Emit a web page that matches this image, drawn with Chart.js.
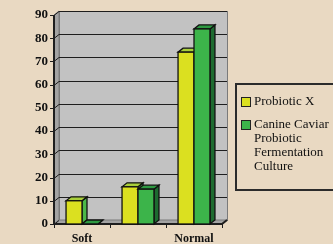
<!DOCTYPE html>
<html>
<head>
<meta charset="utf-8">
<script src="https://cdn.jsdelivr.net/npm/chart.js@4"></script>
<style>
  html, body { margin: 0; padding: 0; background: #e9d9c2; }
  #wrap { position: relative; width: 333px; height: 244px; overflow: hidden; }
  #legend {
    position: absolute; left: 235px; top: 83px; width: 104px; height: 108px;
    border: 2px solid #2b2b2b; box-sizing: border-box;
    font: 13px "Liberation Serif", serif; color: #111; padding: 9px 0 0 4px;
  }
  .item { display: flex; align-items: flex-start; margin-bottom: 9px; line-height: 14px; }
  .box { width: 8px; height: 8px; border: 1px solid #222; margin: 3px 3px 0 0; flex: none; }
  .txt { width: 84px; }
</style>
</head>
<body>
<div id="wrap">
  <canvas id="js--chart" width="333" height="244"></canvas>
  <div id="legend"></div>
</div>
<script>
const categories = ["Soft", "", "Normal"];
const probioticX = [10, 16, 74];
const canineCaviar = [0, 15, 84];
const seriesNames = ["Probiotic X", "Canine Caviar Probiotic Fermentation Culture"];

const colors = [
  { front: '#dbe020', side: '#4cb848', top: '#a9cf3a' },
  { front: '#3cb44a', side: '#1d6b30', top: '#2e9a42' }
];

const dx = 5, dy = 4;

function poly(ctx, pts, fill) {
  ctx.beginPath();
  ctx.moveTo(pts[0][0], pts[0][1]);
  for (let i = 1; i < pts.length; i++) ctx.lineTo(pts[i][0], pts[i][1]);
  ctx.closePath();
  ctx.fillStyle = fill;
  ctx.fill();
  ctx.stroke();
}

const threeD = {
  id: 'threeD',
  beforeDatasetsDraw(chart) {
    const ctx = chart.ctx;
    const a = chart.chartArea;
    const y = chart.scales.y;
    ctx.save();
    ctx.lineWidth = 1;
    ctx.strokeStyle = '#7a7a7a';
    // back wall
    ctx.fillStyle = '#c2c2c2';
    ctx.fillRect(a.left + dx, a.top - dy, a.right - a.left, a.bottom - a.top);
    ctx.strokeRect(a.left + dx + 0.5, a.top - dy + 0.5, a.right - a.left, a.bottom - a.top);
    // left wall + floor
    poly(ctx, [[a.left, a.top], [a.left + dx, a.top - dy], [a.left + dx, a.bottom - dy], [a.left, a.bottom]], '#a3a3a3');
    poly(ctx, [[a.left, a.bottom], [a.right, a.bottom], [a.right + dx, a.bottom - dy], [a.left + dx, a.bottom - dy]], '#a3a3a3');
    // gridlines on back wall + ticks
    ctx.strokeStyle = '#1e1e1e';
    y.ticks.forEach(t => {
      const py = Math.round(y.getPixelForValue(t.value)) + 0.5;
      ctx.beginPath();
      if (t.value > 0) {
        ctx.moveTo(a.left + dx, py - dy);
        ctx.lineTo(a.right + dx, py - dy);
      }
      ctx.moveTo(a.left - 4, py);
      ctx.lineTo(a.left, py);
      ctx.lineTo(a.left + dx, py - dy);
      ctx.stroke();
    });
    // axes
    ctx.lineWidth = 2;
    ctx.beginPath();
    ctx.moveTo(a.left, a.top);
    ctx.lineTo(a.left, a.bottom);
    ctx.lineTo(a.right, a.bottom);
    ctx.lineTo(a.right + dx, a.bottom - dy);
    ctx.stroke();
    ctx.lineWidth = 1;
    const step = (a.right - a.left) / categories.length;
    for (let i = 0; i <= categories.length; i++) {
      const px = Math.round(a.left + i * step) + 0.5;
      ctx.beginPath();
      ctx.moveTo(px, a.bottom);
      ctx.lineTo(px, a.bottom + 4);
      ctx.stroke();
    }
    ctx.restore();
  },
  afterDatasetsDraw(chart) {
    const ctx = chart.ctx;
    const bars = [];
    chart.data.datasets.forEach((ds, i) => {
      chart.getDatasetMeta(i).data.forEach(el => bars.push({ el, c: colors[i] }));
    });
    bars.sort((p, q) => p.el.x - q.el.x);
    ctx.save();
    ctx.lineWidth = 1.3;
    ctx.strokeStyle = '#111';
    bars.forEach(({ el, c }) => {
      const l = el.x - el.width / 2, r = el.x + el.width / 2, t = el.y, b = el.base;
      poly(ctx, [[r, t], [r + dx, t - dy], [r + dx, b - dy], [r, b]], c.side);
      poly(ctx, [[l, t], [r, t], [r + dx, t - dy], [l + dx, t - dy]], c.top);
      if (b - t > 0) {
        ctx.fillStyle = c.front;
        ctx.fillRect(l, t, r - l, b - t);
        ctx.strokeRect(l, t, r - l, b - t);
      }
    });
    ctx.restore();
  }
};

const data = {
  labels: categories,
  datasets: [
    { label: seriesNames[0], data: probioticX, backgroundColor: colors[0].front },
    { label: seriesNames[1], data: canineCaviar, backgroundColor: colors[1].front }
  ]
};

const tickFont = { family: 'Liberation Serif', size: 13, weight: 'bold' };

const config = {
  type: 'bar',
  data: data,
  options: {
    responsive: false,
    animation: false,
    categoryPercentage: 0.57,
    barPercentage: 1,
    layout: { padding: { top: 15, right: 111, left: 0, bottom: 0 } },
    plugins: { legend: { display: false }, tooltip: { enabled: false } },
    scales: {
      x: {
        grid: { display: false, drawTicks: false },
        border: { display: false },
        ticks: { font: { family: 'Liberation Serif', size: 12, weight: 'bold' }, color: '#111', padding: 8, autoSkip: false, maxRotation: 0 },
        afterFit: s => { s.height = 20; }
      },
      y: {
        min: 0, max: 90,
        grid: { display: false, drawTicks: false },
        border: { display: false },
        ticks: { stepSize: 10, font: tickFont, color: '#111', padding: 6 },
        afterFit: s => { s.width = 54; }
      }
    }
  },
  plugins: [threeD]
};

new Chart(document.getElementById("js--chart"), config);

let legend = document.getElementById("legend");
data.datasets.forEach((ds, i) => {
  legend.innerHTML += '<div class="item"><span class="box" style="background:' + colors[i].front +
    '"></span><span class="txt">' + ds.label + '</span></div>';
});
</script>
</body>
</html>
